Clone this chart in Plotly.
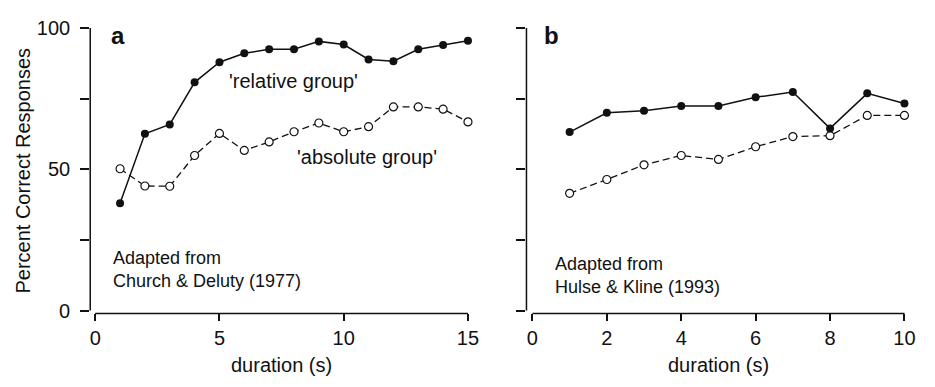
import plotly.graph_objects as go

# Panel a: Church & Deluty (1977)
dur_a = list(range(1, 16))
relative_a = [38, 62.6, 65.9, 80.8, 87.9, 91.1, 92.5, 92.5, 95.3, 94.2, 88.9, 88.3, 92.5, 94.0, 95.5]
absolute_a = [50.2, 44.1, 44.0, 54.9, 62.7, 56.7, 59.7, 63.3, 66.4, 63.3, 65.1, 72.1, 72.1, 71.3, 66.8]

# Panel b: Hulse & Kline (1993)
dur_b = list(range(1, 11))
relative_b = [63.2, 70.0, 70.7, 72.4, 72.4, 75.5, 77.4, 64.5, 76.9, 73.3]
absolute_b = [41.5, 46.4, 51.6, 54.9, 53.5, 58.0, 61.6, 61.9, 69.1, 69.1]

y_ticks = [0, 25, 50, 75, 100]
y_ticktext = ["0", "", "50", "", "100"]
xa_ticks = [0, 5, 10, 15]
xb_ticks = [0, 2, 4, 6, 8, 10]

FONT = "Liberation Sans, Arial, sans-serif"
INK = "#111111"

fig = go.Figure()

def add_pair(x, rel, ab, xa, ya):
    fig.add_trace(go.Scatter(
        x=x, y=ab, mode="lines+markers", xaxis=xa, yaxis=ya,
        line=dict(color=INK, width=1.3, dash="7px,4px"),
        marker=dict(symbol="circle", size=8, color="white", line=dict(color=INK, width=1.2)),
        cliponaxis=False, showlegend=False))
    fig.add_trace(go.Scatter(
        x=x, y=rel, mode="lines+markers", xaxis=xa, yaxis=ya,
        line=dict(color=INK, width=1.5),
        marker=dict(symbol="circle", size=8, color=INK),
        cliponaxis=False, showlegend=False))

add_pair(dur_a, relative_a, absolute_a, "x", "y")
add_pair(dur_b, relative_b, absolute_b, "x2", "y2")

ydom = [1 - 318 / 387, 1 - 18 / 387]
common_ax = dict(showgrid=False, zeroline=False, showline=False, ticks="outside",
                 tickwidth=1.5, tickcolor=INK,
                 tickfont=dict(family=FONT, size=20, color=INK))

fig.update_layout(
    width=935, height=387,
    margin=dict(l=0, r=0, t=0, b=0),
    paper_bgcolor="white", plot_bgcolor="white",
    font=dict(family=FONT, color=INK),
    xaxis=dict(common_ax, domain=[90 / 935, 475 / 935], range=[-0.2, 15.16],
               tickvals=xa_ticks, anchor="y", ticklen=7),
    yaxis=dict(common_ax, domain=ydom, range=[-1.01, 100], tickvals=y_ticks,
               ticktext=y_ticktext, anchor="x", ticklen=9, ticklabelstandoff=6),
    xaxis2=dict(common_ax, domain=[530 / 935, 915 / 935], range=[-0.16, 10.1],
                tickvals=xb_ticks, anchor="y2", ticklen=7),
    yaxis2=dict(common_ax, domain=ydom, range=[-1.01, 100], tickvals=y_ticks,
                showticklabels=False, anchor="x2", ticklen=9),
)

# detached axis lines (R style)
line_style = dict(color=INK, width=1.5)
for xa, ya, xmax in (("x", "y", 15), ("x2", "y2", 10)):
    fig.add_shape(type="line", xref=f"{xa} domain", yref=ya, x0=0, x1=0, y0=0, y1=100, line=line_style)
    fig.add_shape(type="line", xref=xa, yref=f"{ya} domain", x0=0, x1=xmax, y0=0, y1=0, line=line_style)

ann = []
# axis titles
ann.append(dict(x=22 / 935, y=1 - 168 / 387, xref="paper", yref="paper", text="Percent Correct Responses",
                textangle=-90, showarrow=False, xanchor="center", yanchor="middle",
                font=dict(family=FONT, size=20, color=INK)))
ann.append(dict(x=7.5, y=1 - 372 / 387, xref="x", yref="paper", text="duration (s)",
                showarrow=False, xanchor="center", yanchor="middle",
                font=dict(family=FONT, size=20, color=INK)))
ann.append(dict(x=5, y=1 - 372 / 387, xref="x2", yref="paper", text="duration (s)",
                showarrow=False, xanchor="center", yanchor="middle",
                font=dict(family=FONT, size=20, color=INK)))
# panel labels
ann.append(dict(x=0.54, y=97.3, xref="x", yref="y", text="<b>a</b>", showarrow=False,
                font=dict(family=FONT, size=24, color=INK), xanchor="left", yanchor="middle"))
ann.append(dict(x=0.27, y=97.3, xref="x2", yref="y2", text="<b>b</b>", showarrow=False,
                font=dict(family=FONT, size=24, color=INK), xanchor="left", yanchor="middle"))
# group labels
ann.append(dict(x=7.98, y=81.1, xref="x", yref="y", text="'relative group'", showarrow=False,
                font=dict(family=FONT, size=20, color=INK)))
ann.append(dict(x=10.93, y=54.5, xref="x", yref="y", text="'absolute group'", showarrow=False,
                font=dict(family=FONT, size=20, color=INK)))
# source notes
ann.append(dict(x=0.64, y=14.6, xref="x", yref="y", text="Adapted from<br>Church &amp; Deluty (1977)",
                showarrow=False, align="left", xanchor="left", yanchor="middle",
                font=dict(family=FONT, size=18, color=INK)))
ann.append(dict(x=0.56, y=12.3, xref="x2", yref="y2", text="Adapted from<br>Hulse &amp; Kline (1993)",
                showarrow=False, align="left", xanchor="left", yanchor="middle",
                font=dict(family=FONT, size=18, color=INK)))
fig.update_layout(annotations=ann)

fig.write_html("out.html")
